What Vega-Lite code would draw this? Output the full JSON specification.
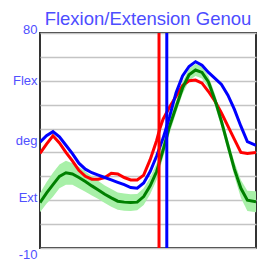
{
  "$schema": "https://vega.github.io/schema/vega-lite/v6.json",
  "width": 216,
  "height": 215,
  "autosize": {"type": "none"},
  "padding": {"left": 40, "top": 33, "right": 3, "bottom": 14},
  "background": "white",
  "config": {"view": {"stroke": "#333333", "strokeWidth": 2}},
  "title": {"text": "Flexion/Extension Genou", "fontSize": 18.5, "font": "Liberation Sans", "fontWeight": "normal", "color": "#4d4dff", "anchor": "middle", "offset": -5},
  "datasets": {
    "curves": [
      {"x": 0, "s": "blue", "y": 34.3}, {"x": 3, "s": "blue", "y": 37}, {"x": 6, "s": "blue", "y": 38.7}, {"x": 9, "s": "blue", "y": 36.5}, {"x": 12, "s": "blue", "y": 33}, {"x": 15, "s": "blue", "y": 29.5}, {"x": 18, "s": "blue", "y": 25.5}, {"x": 21, "s": "blue", "y": 23}, {"x": 24, "s": "blue", "y": 21.5}, {"x": 27, "s": "blue", "y": 20.5}, {"x": 30, "s": "blue", "y": 19.5}, {"x": 33, "s": "blue", "y": 18.5}, {"x": 36, "s": "blue", "y": 17.5}, {"x": 39, "s": "blue", "y": 16.5}, {"x": 42, "s": "blue", "y": 15.3}, {"x": 45, "s": "blue", "y": 15}, {"x": 48, "s": "blue", "y": 17.2}, {"x": 51, "s": "blue", "y": 22}, {"x": 54, "s": "blue", "y": 28.5}, {"x": 57, "s": "blue", "y": 36}, {"x": 60, "s": "blue", "y": 45}, {"x": 63, "s": "blue", "y": 55}, {"x": 66, "s": "blue", "y": 62}, {"x": 69, "s": "blue", "y": 66}, {"x": 72, "s": "blue", "y": 68}, {"x": 75, "s": "blue", "y": 66.5}, {"x": 78, "s": "blue", "y": 63.5}, {"x": 81, "s": "blue", "y": 61}, {"x": 84, "s": "blue", "y": 58.5}, {"x": 87, "s": "blue", "y": 54}, {"x": 90, "s": "blue", "y": 48}, {"x": 93, "s": "blue", "y": 41}, {"x": 96, "s": "blue", "y": 34.5}, {"x": 100, "s": "blue", "y": 33},
      {"x": 0, "s": "red", "y": 29.6}, {"x": 3, "s": "red", "y": 33.5}, {"x": 6, "s": "red", "y": 37}, {"x": 9, "s": "red", "y": 34}, {"x": 12, "s": "red", "y": 30}, {"x": 15, "s": "red", "y": 26.5}, {"x": 18, "s": "red", "y": 22.5}, {"x": 21, "s": "red", "y": 20}, {"x": 24, "s": "red", "y": 18.8}, {"x": 27, "s": "red", "y": 18.8}, {"x": 30, "s": "red", "y": 19.5}, {"x": 33, "s": "red", "y": 21.3}, {"x": 36, "s": "red", "y": 21}, {"x": 39, "s": "red", "y": 19.5}, {"x": 42, "s": "red", "y": 18.5}, {"x": 45, "s": "red", "y": 18.5}, {"x": 48, "s": "red", "y": 20.5}, {"x": 51, "s": "red", "y": 27}, {"x": 54, "s": "red", "y": 35}, {"x": 55.5, "s": "red", "y": 40}, {"x": 57, "s": "red", "y": 44}, {"x": 60, "s": "red", "y": 49}, {"x": 63, "s": "red", "y": 53.5}, {"x": 66, "s": "red", "y": 58}, {"x": 69, "s": "red", "y": 60}, {"x": 72, "s": "red", "y": 60.3}, {"x": 75, "s": "red", "y": 59}, {"x": 78, "s": "red", "y": 55.5}, {"x": 81, "s": "red", "y": 51.5}, {"x": 84, "s": "red", "y": 46.5}, {"x": 87, "s": "red", "y": 41}, {"x": 90, "s": "red", "y": 35.5}, {"x": 93, "s": "red", "y": 30}, {"x": 96, "s": "red", "y": 29.6}, {"x": 100, "s": "red", "y": 30},
      {"x": 0, "s": "green", "y": 9}, {"x": 3, "s": "green", "y": 13}, {"x": 6, "s": "green", "y": 16.5}, {"x": 9, "s": "green", "y": 20}, {"x": 12, "s": "green", "y": 21.5}, {"x": 15, "s": "green", "y": 21}, {"x": 18, "s": "green", "y": 19.5}, {"x": 21, "s": "green", "y": 17.8}, {"x": 24, "s": "green", "y": 16}, {"x": 27, "s": "green", "y": 14.3}, {"x": 30, "s": "green", "y": 12.5}, {"x": 33, "s": "green", "y": 11}, {"x": 36, "s": "green", "y": 9.6}, {"x": 39, "s": "green", "y": 9.2}, {"x": 42, "s": "green", "y": 9}, {"x": 45, "s": "green", "y": 9.2}, {"x": 48, "s": "green", "y": 11.5}, {"x": 51, "s": "green", "y": 16}, {"x": 54, "s": "green", "y": 22}, {"x": 57, "s": "green", "y": 31}, {"x": 60, "s": "green", "y": 41}, {"x": 63, "s": "green", "y": 49}, {"x": 66, "s": "green", "y": 57}, {"x": 69, "s": "green", "y": 62.5}, {"x": 72, "s": "green", "y": 64.5}, {"x": 75, "s": "green", "y": 63.5}, {"x": 78, "s": "green", "y": 59.5}, {"x": 81, "s": "green", "y": 52}, {"x": 84, "s": "green", "y": 43}, {"x": 87, "s": "green", "y": 33}, {"x": 90, "s": "green", "y": 23}, {"x": 93, "s": "green", "y": 15}, {"x": 96, "s": "green", "y": 10}, {"x": 100, "s": "green", "y": 9.4}
    ],
    "band": [
      {"x": 0, "lo": 5, "hi": 13}, {"x": 3, "lo": 8.5, "hi": 17.5}, {"x": 6, "lo": 11.5, "hi": 21.5}, {"x": 9, "lo": 15, "hi": 25}, {"x": 12, "lo": 16.5, "hi": 26.5}, {"x": 15, "lo": 16.5, "hi": 25.5}, {"x": 18, "lo": 15, "hi": 24}, {"x": 21, "lo": 13.5, "hi": 22}, {"x": 24, "lo": 12, "hi": 20}, {"x": 27, "lo": 10.5, "hi": 18}, {"x": 30, "lo": 8.8, "hi": 16.2}, {"x": 33, "lo": 7.3, "hi": 14.7}, {"x": 36, "lo": 6, "hi": 13.2}, {"x": 39, "lo": 5.6, "hi": 12.8}, {"x": 42, "lo": 5.5, "hi": 12.5}, {"x": 45, "lo": 5.8, "hi": 12.6}, {"x": 48, "lo": 8, "hi": 15}, {"x": 51, "lo": 12.5, "hi": 19.5}, {"x": 54, "lo": 18.5, "hi": 25.5}, {"x": 57, "lo": 28, "hi": 34}, {"x": 60, "lo": 38, "hi": 44}, {"x": 63, "lo": 46.5, "hi": 51.5}, {"x": 66, "lo": 54.5, "hi": 59.5}, {"x": 69, "lo": 60, "hi": 65}, {"x": 72, "lo": 62, "hi": 67}, {"x": 75, "lo": 61, "hi": 66}, {"x": 78, "lo": 57, "hi": 62}, {"x": 81, "lo": 49.5, "hi": 54.5}, {"x": 84, "lo": 40.5, "hi": 45.5}, {"x": 87, "lo": 30.5, "hi": 35.5}, {"x": 90, "lo": 20, "hi": 26}, {"x": 93, "lo": 11, "hi": 18.5}, {"x": 96, "lo": 5.5, "hi": 14}, {"x": 100, "lo": 5, "hi": 13.8}
    ],
    "events": [
      {"x": 55.1, "s": "red"}, {"x": 58.7, "s": "blue"}
    ]
  },
  "layer": [
    {
      "data": {"name": "band"},
      "mark": {"type": "area", "color": "#a8f0a8", "opacity": 1, "clip": true},
      "encoding": {
        "x": {"field": "x", "type": "quantitative", "scale": {"domain": [0, 100], "nice": false, "zero": false}, "axis": null},
        "y": {"field": "lo", "type": "quantitative", "scale": {"domain": [-10, 80], "nice": false, "zero": false},
          "axis": {
            "values": [-10, 0, 10, 11, 20, 30, 35, 40, 50, 60, 70, 80],
            "tickCount": 50,
            "labelExpr": "datum.value == 80 ? '80' : datum.value == 60 ? 'Flex' : datum.value == 35 ? 'deg' : datum.value == 11 ? 'Ext' : datum.value == -10 ? '-10' : ''",
            "labelOverlap": false,
            "title": null, "domain": false, "ticks": false,
            "labelFont": "Liberation Sans", "labelFontSize": 13, "labelColor": "#5050ff", "labelPadding": 3,
            "labelBaseline": {"condition": [{"test": "datum.value == 80", "value": "alphabetic"}, {"test": "datum.value == -10", "value": "top"}], "value": "middle"},
            "grid": true, "gridColor": "#c4c4c4", "gridWidth": 1.6,
            "gridOpacity": {"condition": {"test": "datum.value == 35 || datum.value == 11", "value": 0}, "value": 1}
          }
        },
        "y2": {"field": "hi"}
      }
    },
    {
      "data": {"name": "curves"},
      "transform": [{"filter": "datum.s == 'red'"}],
      "mark": {"type": "line", "color": "#ff0000", "strokeWidth": 3, "clip": true},
      "encoding": {"x": {"field": "x", "type": "quantitative"}, "y": {"field": "y", "type": "quantitative"}}
    },
    {
      "data": {"name": "curves"},
      "transform": [{"filter": "datum.s == 'green'"}],
      "mark": {"type": "line", "color": "#008000", "strokeWidth": 3, "clip": true},
      "encoding": {"x": {"field": "x", "type": "quantitative"}, "y": {"field": "y", "type": "quantitative"}}
    },
    {
      "data": {"name": "curves"},
      "transform": [{"filter": "datum.s == 'blue'"}],
      "mark": {"type": "line", "color": "#0000ff", "strokeWidth": 3, "clip": true},
      "encoding": {"x": {"field": "x", "type": "quantitative"}, "y": {"field": "y", "type": "quantitative"}}
    },
    {
      "data": {"name": "events"},
      "mark": {"type": "rule", "strokeWidth": 3},
      "encoding": {
        "x": {"field": "x", "type": "quantitative"},
        "color": {"field": "s", "type": "nominal", "scale": {"domain": ["red", "blue"], "range": ["#ff0000", "#0000ff"]}, "legend": null}
      }
    }
  ]
}
